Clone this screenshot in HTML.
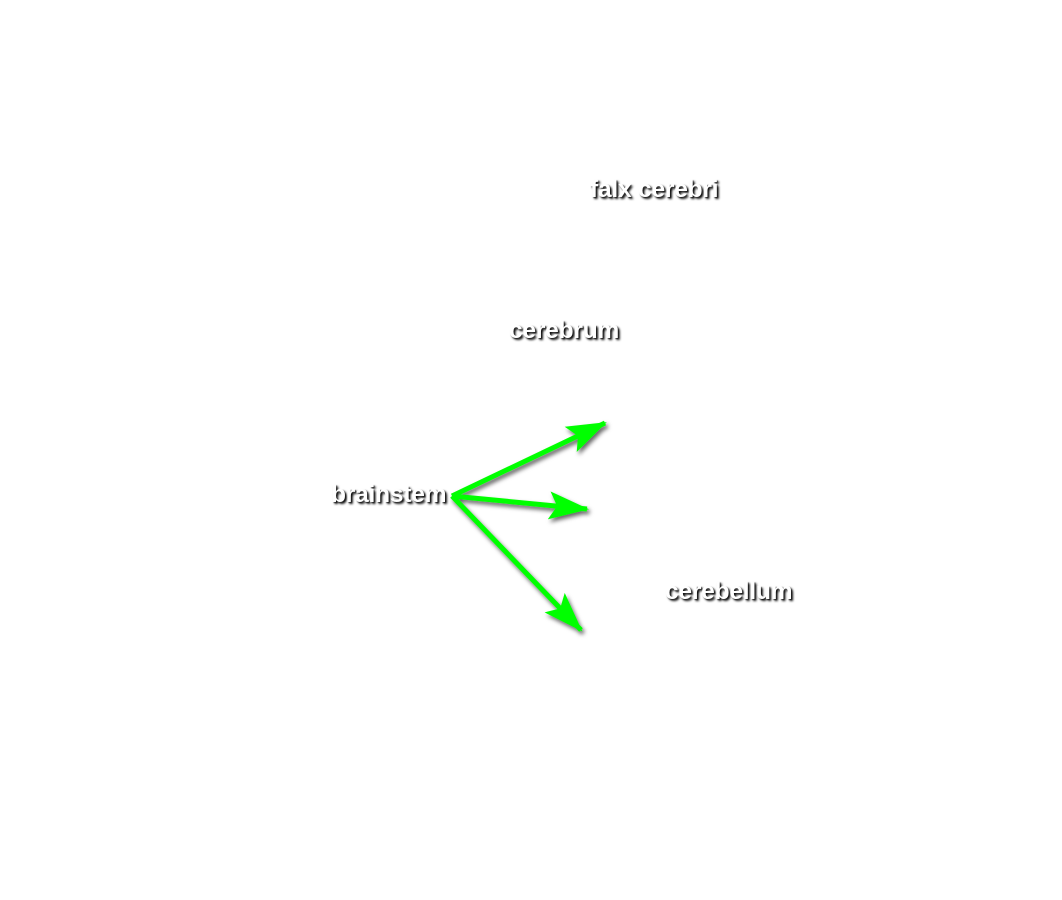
<!DOCTYPE html>
<html><head><style>
html,body{margin:0;padding:0;background:#fff;width:1062px;height:900px;overflow:hidden}
.t{position:absolute;font-family:"Liberation Sans",sans-serif;font-weight:bold;font-size:24.5px;color:#fff;line-height:1;text-shadow:2px 2px 2px rgba(0,0,0,0.9),1px 1px 1px rgba(0,0,0,0.6);white-space:nowrap;letter-spacing:-0.2px}
svg{position:absolute;left:0;top:0}
</style></head><body>
<svg width="1062" height="900">
<defs>
<filter id="s" x="-20%" y="-20%" width="140%" height="140%"><feDropShadow dx="2" dy="3" stdDeviation="2" flood-color="#000" flood-opacity="0.6"/></filter>
<marker id="a" markerWidth="40" markerHeight="28" refX="38" refY="14" orient="auto" markerUnits="userSpaceOnUse"><path d="M0,0 L40,14 L0,28 L8,14 Z" fill="#00ff00"/></marker>
</defs>
<g filter="url(#s)" stroke="#00ff00" stroke-width="5" fill="none">
<line x1="452" y1="496" x2="605" y2="423" marker-end="url(#a)"/>
<line x1="452" y1="496" x2="587" y2="509" marker-end="url(#a)"/>
<line x1="452" y1="496" x2="581" y2="630" marker-end="url(#a)"/>
</g>
</svg>
<div class="t" style="left:590px;top:178px">falx cerebri</div>
<div class="t" style="left:509px;top:319px">cerebrum</div>
<div class="t" style="left:331px;top:483px">brainstem</div>
<div class="t" style="left:665px;top:580px">cerebellum</div>
</body></html>
